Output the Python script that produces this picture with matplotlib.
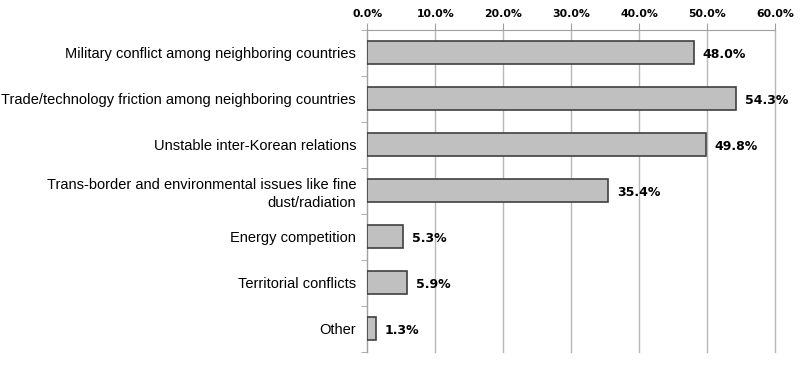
import matplotlib.pyplot as plt
import numpy as np

categories = [
    "Military conflict among neighboring countries",
    "Trade/technology friction among neighboring countries",
    "Unstable inter-Korean relations",
    "Trans-border and environmental issues like fine\ndust/radiation",
    "Energy competition",
    "Territorial conflicts",
    "Other",
]
values = [48.0, 54.3, 49.8, 35.4, 5.3, 5.9, 1.3]
xticks = [0, 10, 20, 30, 40, 50, 60]

fig = plt.figure(figsize=(8, 3.65), dpi=100)
ax = fig.add_axes([0.459, 0.036, 0.51, 0.882])

y = np.arange(len(categories))
ax.barh(y, values, height=0.5, color="#c0c0c0", edgecolor="#404040", linewidth=1.2, zorder=3)

for yi, v in zip(y, values):
    ax.text(v + 1.3, yi + 0.03, f"{v:.1f}%", va="center", ha="left",
            fontsize=9, fontweight="bold", family="DejaVu Sans")

ax.set_ylim(len(categories) - 0.5, -0.5)
ax.set_xlim(0, 60)
ax.set_xticks(xticks)
ax.set_xticklabels([f"{t:.1f}%" for t in xticks], fontsize=7.8, fontweight="bold")
ax.xaxis.tick_top()
ax.tick_params(axis="x", length=5, color="#a0a0a0", pad=3)
ax.grid(axis="x", color="#b8b8b8", linewidth=1, zorder=0)
for gl in ax.get_xgridlines():
    gl.set_clip_on(False)

ax.set_yticks(y)
ax.set_yticklabels(categories, fontsize=10.5, family="Liberation Sans", linespacing=1.3)
ax.tick_params(axis="y", length=0, pad=8)
ax.set_yticks(np.arange(len(categories) + 1) - 0.5, minor=True)
ax.tick_params(axis="y", which="minor", length=4, color="#a0a0a0")

for s in ["right", "bottom"]:
    ax.spines[s].set_visible(False)
ax.spines["left"].set_color("#a0a0a0")
ax.spines["top"].set_color("#a0a0a0")

fig.savefig("out.png", dpi=100)
